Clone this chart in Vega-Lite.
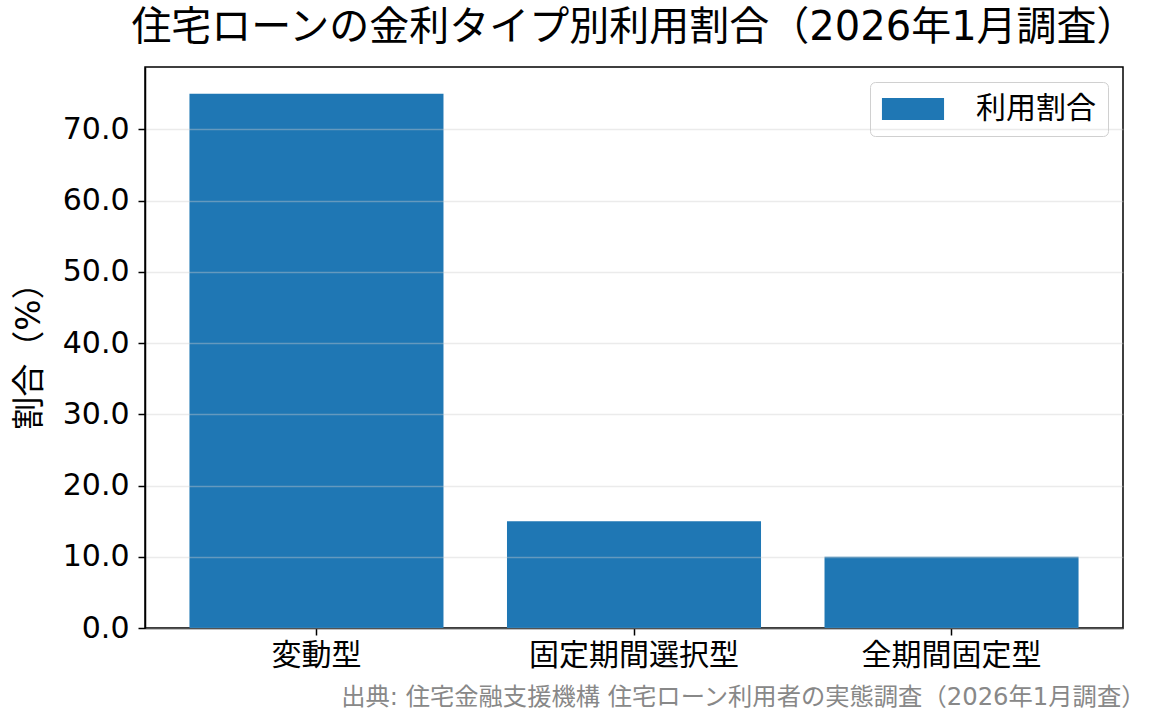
{
  "$schema": "https://vega.github.io/schema/vega-lite/v6.json",
  "width": 978,
  "height": 561,
  "autosize": "none",
  "padding": {"left": 145, "top": 67, "right": 42, "bottom": 97},
  "background": "white",
  "config": {
    "font": "DejaVu Sans, Noto Sans CJK JP",
    "view": {"stroke": "black", "strokeWidth": 1.5},
    "axis": {
      "labelFont": "DejaVu Sans, Noto Sans CJK JP",
      "titleFont": "DejaVu Sans, Noto Sans CJK JP",
      "labelColor": "black",
      "titleColor": "black",
      "domainColor": "black",
      "domainWidth": 1.5,
      "tickColor": "black",
      "tickWidth": 1.5,
      "tickSize": 7
    },
    "legend": {"labelFont": "DejaVu Sans, Noto Sans CJK JP"}
  },
  "title": {
    "text": "住宅ローンの金利タイプ別利用割合（2026年1月調査）",
    "font": "DejaVu Sans, Noto Sans CJK JP",
    "fontSize": 40,
    "fontWeight": "normal",
    "color": "black",
    "anchor": "middle",
    "frame": "group",
    "baseline": "alphabetic",
    "offset": 21,
    "dy": 34
  },
  "data": {
    "values": [
      {"type": "変動型", "value": 75.0, "series": "利用割合"},
      {"type": "固定期間選択型", "value": 15.0, "series": "利用割合"},
      {"type": "全期間固定型", "value": 10.0, "series": "利用割合"}
    ]
  },
  "mark": {"type": "bar"},
  "encoding": {
    "x": {
      "field": "type",
      "type": "nominal",
      "sort": null,
      "scale": {"paddingInner": 0.2, "paddingOuter": 0.14},
      "axis": {
        "title": "出典: 住宅金融支援機構 住宅ローン利用者の実態調査（2026年1月調査）",
        "titleColor": "#888888",
        "titleFontSize": 24.3,
        "titleFontWeight": "normal",
        "titleAnchor": "end",
        "titleAlign": "right",
        "titleBaseline": "alphabetic",
        "titleX": 1000,
        "titleY": 76,
        "titleLimit": 0,
        "labelAngle": 0,
        "labelFontSize": 30,
        "labelPadding": 5,
        "labelLimit": 0,
        "grid": false
      }
    },
    "y": {
      "field": "value",
      "type": "quantitative",
      "scale": {"domain": [0, 78.75], "nice": false},
      "axis": {
        "title": "割合（%）",
        "titleFontSize": 33,
        "titleFontWeight": "normal",
        "titlePadding": 16,
        "values": [0, 10, 20, 30, 40, 50, 60, 70],
        "format": ".1f",
        "labelFontSize": 30,
        "labelPadding": 9,
        "grid": true,
        "gridColor": "#cccccc",
        "gridOpacity": 0.4,
        "gridWidth": 1.5,
        "zindex": 1
      }
    },
    "color": {
      "field": "series",
      "type": "nominal",
      "scale": {"range": ["#1f77b4"]},
      "legend": {
        "title": null,
        "orient": "top-right",
        "offset": 15,
        "padding": 12,
        "symbolType": "M-2.07,-0.73H2.07V0.73H-2.07Z",
        "symbolSize": 900,
        "symbolOffset": 16,
        "symbolStrokeWidth": 0,
        "labelFontSize": 30,
        "labelColor": "black",
        "labelOffset": 48,
        "fillColor": "white",
        "strokeColor": "#d0d0d0",
        "cornerRadius": 5
      }
    }
  }
}
